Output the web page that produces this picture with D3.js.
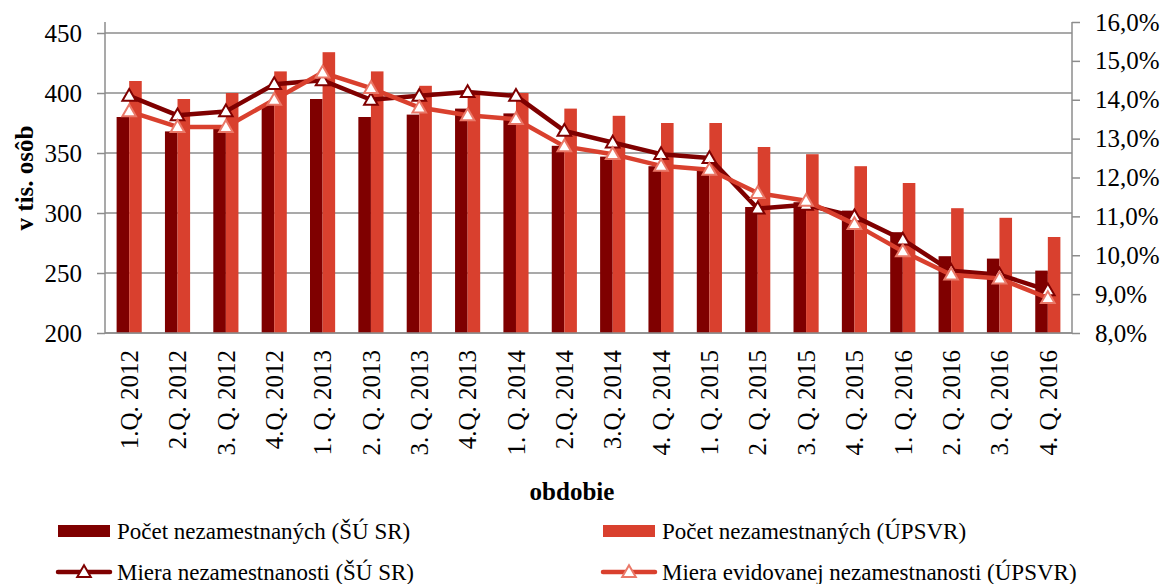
<!DOCTYPE html>
<html>
<head>
<meta charset="utf-8">
<script src="https://cdn.jsdelivr.net/npm/d3@7"></script>
<style>
  body { margin: 0; background: #fff; }
  text { font-family: "Liberation Serif", "Times New Roman", serif; fill: #000; }
</style>
</head>
<body>
<svg id="svg"></svg>
<script>
var categories = ["1.Q. 2012", "2.Q. 2012", "3. Q. 2012", "4.Q. 2012", "1. Q. 2013", "2. Q. 2013",
	"3. Q. 2013", "4.Q. 2013", "1. Q. 2014", "2.Q. 2014", "3.Q. 2014", "4. Q. 2014",
	"1. Q. 2015", "2. Q. 2015", "3. Q. 2015", "4. Q. 2015", "1. Q. 2016", "2. Q. 2016",
	"3. Q. 2016", "4. Q. 2016"];

// pocet nezamestnanych, v tis. osob
var pocetSUSR = [380, 368, 370, 390, 395, 380, 382, 387, 383, 356, 347, 339, 337, 305, 309, 302, 284, 264, 262, 252];
var pocetUPSVR = [410, 395, 400, 418, 434, 418, 406, 401, 400, 387, 381, 375, 375, 355, 349, 339, 325, 304, 296, 280];

// miery v %
var mieraSUSR = [14.1, 13.6, 13.7, 14.4, 14.5, 14.0, 14.1, 14.2, 14.1, 13.2, 12.9, 12.6, 12.5, 11.2, 11.3, 11.0, 10.4, 9.6, 9.5, 9.1];
var mieraUPSVR = [13.7, 13.3, 13.3, 14.0, 14.7, 14.3, 13.8, 13.6, 13.5, 12.8, 12.6, 12.3, 12.2, 11.6, 11.4, 10.8, 10.1, 9.5, 9.4, 8.9];

var leftTicks = [200, 250, 300, 350, 400, 450];
var rightTicks = [8, 9, 10, 11, 12, 13, 14, 15, 16];

var legendItems = [
	{name: "Počet nezamestnaných (ŠÚ SR)", type: "bar", color: "#7f0000"},
	{name: "Počet nezamestnaných (ÚPSVR)", type: "bar", color: "#d9402e"},
	{name: "Miera nezamestnanosti (ŠÚ SR)", type: "line", color: "#7f0000", marker: "#7f0000"},
	{name: "Miera evidovanej nezamestnanosti (ÚPSVR)", type: "line", color: "#d9402e", marker: "#ea7868"}
];

var width = 1166,
	height = 584,
	plotLeft = 105,
	plotRight = 1072,
	plotTop = 22,
	plotBottom = 333,
	darkRed = "#7f0000",
	lightRed = "#d9402e",
	gridColor = "#8c8c8c",
	serif = "Liberation Serif, Times New Roman, serif";

var svg = d3.select("#svg")
	.attr("width", width)
	.attr("height", height);

var x0 = d3.scaleBand()
	.domain(categories)
	.range([plotLeft, plotRight])
	.paddingInner(0.48)
	.paddingOuter(0.24);

var x1 = d3.scaleBand()
	.domain([0, 1])
	.range([0, x0.bandwidth()]);

var yLeft = d3.scaleLinear()
	.domain([200, 450])
	.range([plotBottom, 33]);

var yRight = d3.scaleLinear()
	.domain([8, 16])
	.range([plotBottom, plotTop]);

// gridlines
svg.append("g")
	.selectAll("line")
	.data(leftTicks)
	.enter()
	.append("line")
	.attr("x1", plotLeft)
	.attr("x2", plotRight)
	.attr("y1", function(d){ return yLeft(d); })
	.attr("y2", function(d){ return yLeft(d); })
	.attr("stroke", gridColor)
	.attr("stroke-width", 1.5);

// left axis
var leftAxis = svg.append("g")
	.attr("transform", "translate(" + plotLeft + ",0)")
	.attr("font-family", serif)
	.call(d3.axisLeft(yLeft).tickValues(leftTicks).tickSize(8).tickPadding(15));
leftAxis.select(".domain").remove();
leftAxis.selectAll("line").attr("stroke", gridColor).attr("stroke-width", 1.5);
leftAxis.selectAll("text").style("font-size", "25px");

svg.append("line")
	.attr("x1", plotLeft).attr("x2", plotLeft)
	.attr("y1", plotTop).attr("y2", plotBottom)
	.attr("stroke", gridColor).attr("stroke-width", 1.5);

// right axis
var rightAxis = svg.append("g")
	.attr("transform", "translate(" + plotRight + ",0)")
	.attr("font-family", serif)
	.call(d3.axisRight(yRight).tickValues(rightTicks).tickSize(8).tickPadding(15)
		.tickFormat(function(d){ return d.toFixed(1).replace(".", ",") + "%"; }));
rightAxis.select(".domain").remove();
rightAxis.selectAll("line").attr("stroke", gridColor).attr("stroke-width", 1.5);
rightAxis.selectAll("text").style("font-size", "25px");

svg.append("line")
	.attr("x1", plotRight).attr("x2", plotRight)
	.attr("y1", plotTop).attr("y2", plotBottom)
	.attr("stroke", gridColor).attr("stroke-width", 1.5);

// bars
var barData = categories.map(function(c, i){
	return {cat: c, values: [pocetSUSR[i], pocetUPSVR[i]]};
});
var barColors = [darkRed, lightRed];

var groups = svg.append("g")
	.selectAll("g")
	.data(barData)
	.enter()
	.append("g")
	.attr("transform", function(d){ return "translate(" + x0(d.cat) + ",0)"; });

groups.selectAll("rect")
	.data(function(d){ return d.values.map(function(v, k){ return {k: k, v: v}; }); })
	.enter()
	.append("rect")
	.attr("x", function(d){ return x1(d.k); })
	.attr("width", x1.bandwidth())
	.attr("y", function(d){ return yLeft(d.v); })
	.attr("height", function(d){ return plotBottom - yLeft(d.v); })
	.attr("fill", function(d){ return barColors[d.k]; });

// bottom axis line
svg.append("line")
	.attr("x1", plotLeft).attr("x2", plotRight)
	.attr("y1", plotBottom).attr("y2", plotBottom)
	.attr("stroke", gridColor).attr("stroke-width", 1.5);

// lines
var cx = function(i){ return x0(categories[i]) + x0.bandwidth() / 2; };
var tri = d3.symbol().type(d3.symbolTriangle).size(80);

function drawSeries(values, color, markerStroke){
	var line = d3.line()
		.x(function(d, i){ return cx(i); })
		.y(function(d){ return yRight(d); });
	svg.append("path")
		.datum(values)
		.attr("d", line)
		.attr("fill", "none")
		.attr("stroke", color)
		.attr("stroke-width", 4.5)
		.attr("stroke-linejoin", "round");
	svg.append("g")
		.selectAll("path")
		.data(values)
		.enter()
		.append("path")
		.attr("d", tri)
		.attr("transform", function(d, i){ return "translate(" + cx(i) + "," + (yRight(d) + 1) + ")"; })
		.attr("fill", "#fff")
		.attr("stroke", markerStroke)
		.attr("stroke-width", 2);
}
drawSeries(mieraSUSR, darkRed, darkRed);
drawSeries(mieraUPSVR, lightRed, "#ea7868");

// category labels
svg.append("g")
	.selectAll("text")
	.data(categories)
	.enter()
	.append("text")
	.attr("transform", function(d, i){ return "translate(" + cx(i) + ",350) rotate(-90)"; })
	.attr("dy", "0.35em")
	.attr("text-anchor", "end")
	.style("font-size", "25px")
	.text(function(d){ return d; });

// axis titles
svg.append("text")
	.attr("transform", "translate(33,178) rotate(-90)")
	.attr("text-anchor", "middle")
	.style("font-size", "25px")
	.style("font-weight", "bold")
	.text("v tis. osôb");

svg.append("text")
	.attr("x", 572)
	.attr("y", 500)
	.attr("text-anchor", "middle")
	.style("font-size", "25px")
	.style("font-weight", "bold")
	.text("obdobie");

// legend
var legendPos = [[58, 531], [603, 531], [58, 572], [603, 572]];
var legend = svg.append("g")
	.selectAll("g")
	.data(legendItems)
	.enter()
	.append("g")
	.attr("transform", function(d, i){ return "translate(" + legendPos[i][0] + "," + legendPos[i][1] + ")"; });

legend.filter(function(d){ return d.type === "bar"; })
	.append("rect")
	.attr("x", 0).attr("y", -6)
	.attr("width", 52).attr("height", 12)
	.attr("fill", function(d){ return d.color; });

legend.filter(function(d){ return d.type === "line"; })
	.append("line")
	.attr("x1", 0).attr("x2", 52)
	.attr("y1", 0).attr("y2", 0)
	.attr("stroke", function(d){ return d.color; })
	.attr("stroke-width", 4.5)
	.attr("stroke-linecap", "round");

legend.filter(function(d){ return d.type === "line"; })
	.append("path")
	.attr("d", tri)
	.attr("transform", "translate(26,1)")
	.attr("fill", "#fff")
	.attr("stroke", function(d){ return d.marker; })
	.attr("stroke-width", 2);

legend.append("text")
	.attr("x", 59)
	.attr("dy", "0.35em")
	.style("font-size", "23px")
	.text(function(d){ return d.name; });
</script>
</body>
</html>
